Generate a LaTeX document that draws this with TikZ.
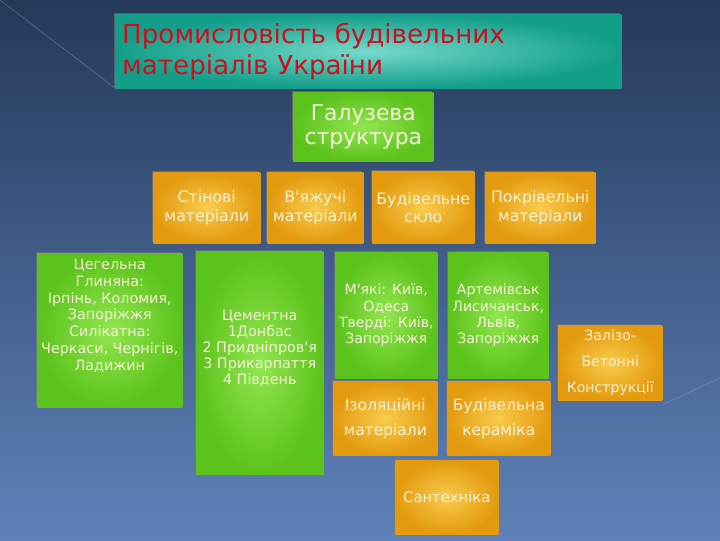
\documentclass[tikz,border=0pt]{standalone}
\usepackage{fontspec}
\setmainfont{DejaVu Sans}
\usetikzlibrary{positioning, shadows}

\definecolor{bgtop}{HTML}{25395A}
\definecolor{bgbot}{HTML}{5E82B9}
\definecolor{grout}{HTML}{5CC21C}
\definecolor{grin}{HTML}{92E650}
\definecolor{orout}{HTML}{E39A0E}
\definecolor{orin}{HTML}{F9CB4C}
\definecolor{tlout}{HTML}{139E8A}
\definecolor{tlin}{HTML}{74DACB}
\definecolor{txt}{HTML}{F6F2D6}
\definecolor{ttl}{HTML}{CC101E}

\tikzset{
	sz/.style 2 args={minimum width=#1*0.025cm, minimum height=#2*0.025cm, inner sep=0pt},
	box/.style={anchor=north west, align=center, text=txt,
		drop shadow={shadow xshift=-1pt, shadow yshift=1pt, opacity=.55}},
	greenbox/.style={box, inner color=grin, outer color=grout},
	orangebox/.style={box, inner color=orin, outer color=orout},
	small/.style={font=\fontsize{10.2}{11.4}\selectfont},
	mid/.style={font=\fontsize{11.2}{13}\selectfont},
	wide/.style={font=\fontsize{11}{17.5}\selectfont}
}

\begin{document}
\begin{tikzpicture}[x=0.025cm, y=-0.025cm]
	\fill[top color=bgtop, bottom color=bgbot] (0,0) rectangle (720,540);
	\useasboundingbox (0,0) rectangle (720,540);
	\draw[white, opacity=.25, line width=.4pt] (0,0) -- (115,88);
	\draw[white, opacity=.2, line width=.4pt] (662,405) -- (720,378);

	\node[box, sz={506}{74}, inner color=tlin, outer color=tlout, text=ttl, align=left,
		text width=12.3cm, font=\fontsize{18.6}{22}\selectfont] (title) at (115,14)
		{Промисловість будівельних\\матеріалів України};

	\node[greenbox, sz={140}{69}, font=\fontsize{15.5}{17}\selectfont] (galuz) at (293,92)
		{Галузева\\структура};

	\node[orangebox, sz={107}{71}, mid] (stena) at (153,172) {Стінові\\матеріали};
	\node[orangebox, sz={96}{71}, mid] (vyazh) at (267,172) {В\textquotesingle яжучі\\матеріали};
	\node[orangebox, sz={102}{72}, mid] (sklo) at (372,171) {Будівельне\\скло};
	\node[orangebox, sz={110}{71}, mid] (pokr) at (485,172) {Покрівельні\\матеріали};

	\node[greenbox, sz={145}{154}, font=\fontsize{10.2}{12}\selectfont] (tseg) at (37,253)
		{Цегельна\\Глиняна:\\Ірпінь, Коломия,\\Запоріжжя\\Силікатна:\\Черкаси, Чернігів,\\Ладижин\\[1em]};
	\node[greenbox, sz={127}{223}, small] (cement) at (196,251)
		{Цементна\\1Донбас\\2 Придніпров\textquotesingle я\\3 Прикарпаття\\4 Південь\\[1em]};
	\node[greenbox, sz={102}{126}, font=\fontsize{10}{11.5}\selectfont] (myaki) at (335,252)
		{М\textquotesingle які: Київ,\\Одеса\\Тверді: Київ,\\Запоріжжя};
	\node[greenbox, sz={100}{126}, font=\fontsize{10}{11.5}\selectfont] (artem) at (448,252)
		{Артемівськ\\Лисичанськ,\\Львів,\\Запоріжжя};

	\node[orangebox, sz={104}{74}, wide, below=0.075cm of myaki.south west, anchor=north west,
		xshift=-0.05cm] (izol) {Ізоляційні\\матеріали};
	\node[orangebox, sz={103}{74}, wide, below=0.075cm of artem.south west, anchor=north west,
		xshift=-0.025cm] (keram) {Будівельна\\кераміка};
	\node[orangebox, sz={104}{75}, font=\fontsize{10}{18.5}\selectfont] (zaliz) at (558,325)
		{Залізо-\\Бетонні\\Конструкції};
	\node[orangebox, sz={103}{74}, font=\fontsize{10.5}{13}\selectfont] (santeh) at (395,460) {Сантехніка};
\end{tikzpicture}
\end{document}
